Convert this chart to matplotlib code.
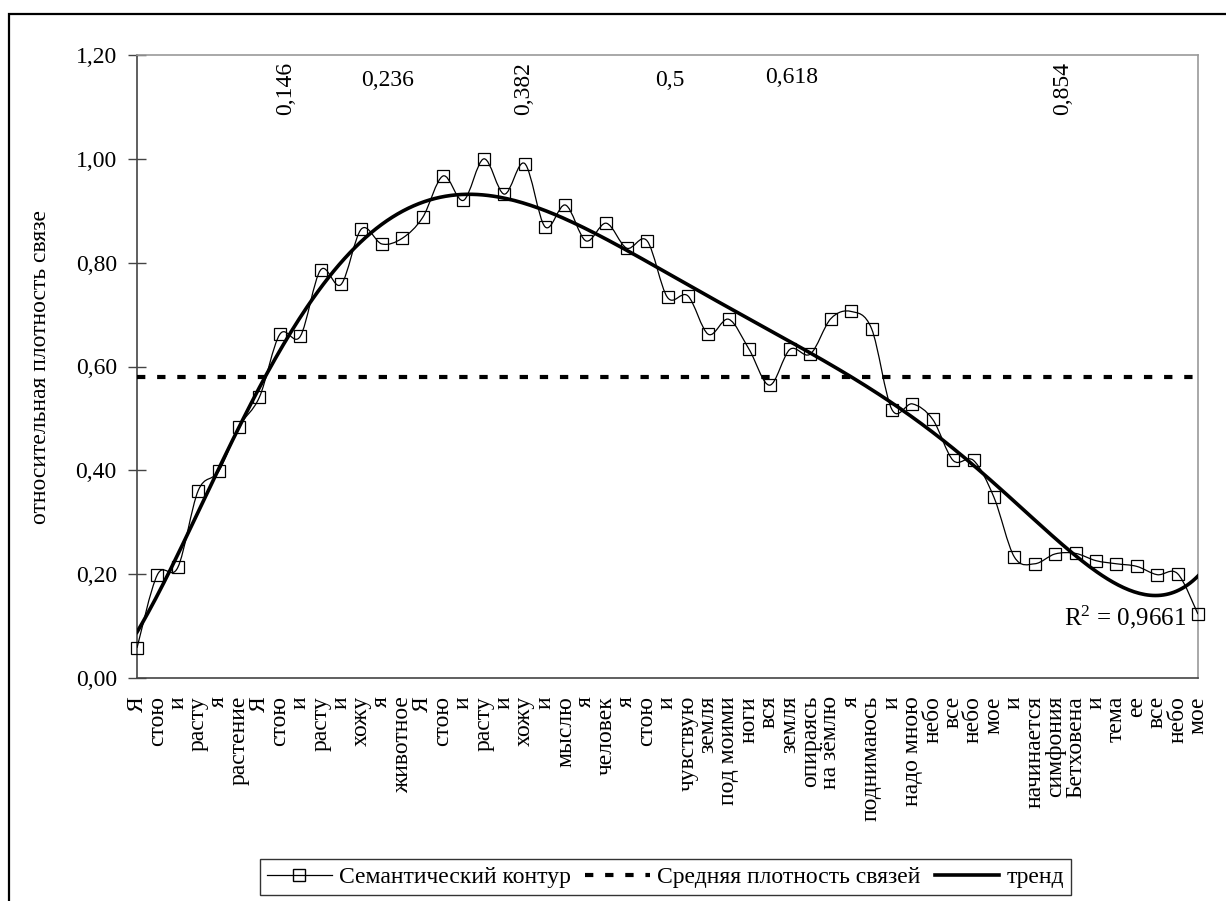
import numpy as np
import matplotlib
matplotlib.use("Agg")
import matplotlib.pyplot as plt
from matplotlib.path import Path
from matplotlib.patches import PathPatch, Rectangle
from matplotlib.lines import Line2D

plt.rcParams['font.family'] = ['Liberation Serif', 'DejaVu Serif']
plt.rcParams['mathtext.default'] = 'regular'
plt.rcParams['lines.scale_dashes'] = False

# слова текста (ось категорий)
words = ["Я", "стою", "и", "расту", "я", "растение", "Я", "стою", "и", "расту",
         "и", "хожу", "я", "животное", "Я", "стою", "и", "расту", "и", "хожу",
         "и", "мыслю", "я", "человек", "я", "стою", "и", "чувствую", "земля",
         "под моими", "ноги", "вся", "земля", "опираясь", "на зёмлю", "я",
         "поднимаюсь", "и", "надо мною", "небо", "все", "небо", "мое", "и",
         "начинается", "симфония", "Бетховена", "и", "тема", "ее", "все",
         "небо", "мое"]

# относительная плотность связей для каждого слова
density = [0.058, 0.199, 0.213, 0.361, 0.398, 0.484, 0.541, 0.662, 0.658, 0.786,
           0.758, 0.865, 0.836, 0.847, 0.887, 0.967, 0.920, 1.000, 0.932, 0.991,
           0.869, 0.911, 0.842, 0.876, 0.828, 0.842, 0.733, 0.736, 0.662, 0.691,
           0.633, 0.564, 0.633, 0.624, 0.692, 0.706, 0.673, 0.517, 0.528, 0.498,
           0.419, 0.419, 0.348, 0.233, 0.220, 0.239, 0.240, 0.226, 0.220, 0.215,
           0.199, 0.201, 0.123]

mean_density = 0.58

# золотое сечение: подписи и их места
fib_labels = ["0,146", "0,236", "0,382", "0,5", "0,618", "0,854"]
fib_x = [7.26, 12.26, 18.94, 26.1, 32.1, 45.38]
fib_y = [1.187, 1.15, 1.187, 1.15, 1.156, 1.187]
fib_rot = [90, 0, 90, 0, 0, 90]

r2_text = "R$^{2}$ = 0,9661"

FS = 17

x = np.arange(len(density))
y = np.array(density)


def smooth_path(xs, ys):
    # сглаженная линия как в Excel (кривые Безье через точки)
    n = len(xs)
    verts = [(xs[0], ys[0])]
    codes = [Path.MOVETO]
    for i in range(n - 1):
        x0, y0 = (xs[i - 1], ys[i - 1]) if i > 0 else (xs[i], ys[i])
        x3, y3 = (xs[i + 2], ys[i + 2]) if i + 2 < n else (xs[i + 1], ys[i + 1])
        c1 = (xs[i] + (xs[i + 1] - x0) / 6, ys[i] + (ys[i + 1] - y0) / 6)
        c2 = (xs[i + 1] - (x3 - xs[i]) / 6, ys[i + 1] - (y3 - ys[i]) / 6)
        verts += [c1, c2, (xs[i + 1], ys[i + 1])]
        codes += [Path.CURVE4] * 3
    return Path(verts, codes)


# полиномиальный тренд 6-й степени
coef = np.polyfit(x + 1, y, 6)
xt = np.linspace(0, len(y) - 1, 400)
yt = np.polyval(coef, xt + 1)

fig = plt.figure(figsize=(12.26, 9.01), dpi=100)
ax = fig.add_axes([137 / 1226, 1 - 678 / 901, (1198 - 137) / 1226, (678 - 55) / 901])

# рамка диаграммы
fig.patches.append(Rectangle((9 / 1226, -0.1), 1.2, 1 - 14 / 901 + 0.1,
                             transform=fig.transFigure, fill=False,
                             ec='black', lw=1.6))

ax.add_patch(PathPatch(smooth_path(x, y), fill=False, ec='black', lw=0.9, zorder=3))
ax.plot(x, y, ls='none', marker='s', ms=8, mfc='none', mec='black', mew=0.9,
        zorder=4, clip_on=False)
ax.plot(x, [mean_density] * len(x), color='black', lw=3, ls=(0, (6, 8.5)), zorder=3)
ax.plot(xt, yt, color='black', lw=2.6, zorder=3)

ax.set_xlim(0, len(y) - 1)
ax.set_ylim(0, 1.2)

ax.set_xticks(x)
ax.set_xticklabels(words, rotation=90, va='top', ha='center', fontsize=FS)
ax.tick_params(axis='x', which='major', length=0, pad=13)
ax.set_xticks(np.arange(0, len(y), 2), minor=True)
ax.tick_params(axis='x', which='minor', direction='inout', length=12, width=1,
               color='#444444')
ax.grid(axis='x', which='minor', color='#9a9a9a', lw=1)

yt_vals = np.arange(0, 1.21, 0.2)
ax.set_yticks(yt_vals)
ax.set_yticklabels([f"{v:.2f}".replace('.', ',') for v in yt_vals], fontsize=FS)
ax.tick_params(axis='y', direction='inout', length=13, width=1, color='#444444', pad=8)
ax.set_ylabel("относительная плотность связе", fontsize=FS, labelpad=18)

for s in ['left', 'bottom']:
    ax.spines[s].set_color('#444444')
    ax.spines[s].set_linewidth(1.2)
for s in ['top', 'right']:
    ax.spines[s].set_color('#9a9a9a')
    ax.spines[s].set_linewidth(1.2)

for lab, fx, fy, rot in zip(fib_labels, fib_x, fib_y, fib_rot):
    if rot:
        ax.text(fx, fy, lab, rotation=90, ha='center', va='top', fontsize=FS)
    else:
        ax.text(fx, fy, lab, ha='center', va='center', fontsize=FS)

ax.text(48.4, 0.116, r2_text, ha='center', va='center', fontsize=FS + 1)

handles = [
    Line2D([], [], color='black', lw=0.9, marker='s', ms=8, mfc='none', mec='black'),
    Line2D([], [], color='black', lw=3, ls=(0, (6, 8.5))),
    Line2D([], [], color='black', lw=2.6),
]
leg = fig.legend(handles, ["Семантический контур", "Средняя плотность связей", "тренд"],
                 loc='center', bbox_to_anchor=(665.5 / 1226, 1 - 877 / 901), ncol=3,
                 fontsize=FS, frameon=True, fancybox=False, handlelength=2.75,
                 columnspacing=0.6, handletextpad=0.3, borderpad=0.3)
leg.get_frame().set_edgecolor('black')
leg.get_frame().set_linewidth(1.0)

fig.savefig("out.png", dpi=100)
